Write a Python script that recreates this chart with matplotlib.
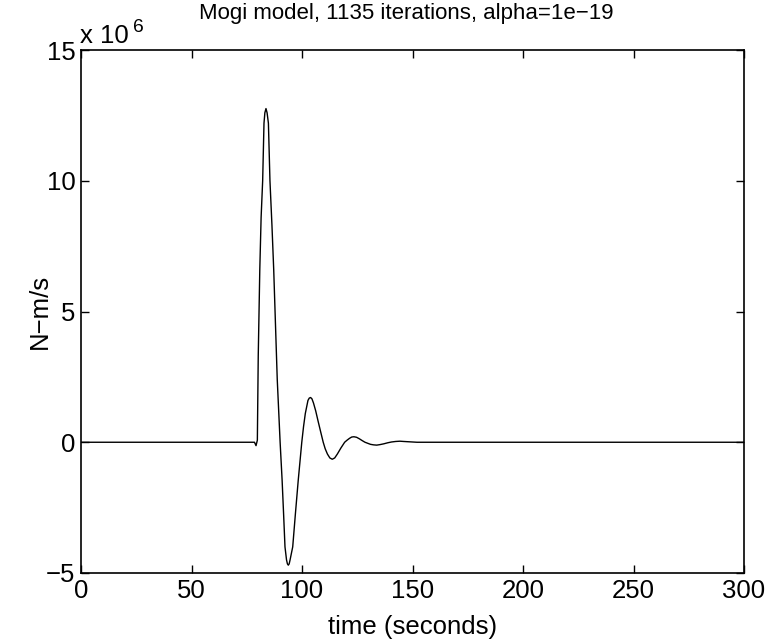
import matplotlib
matplotlib.use("Agg")
import matplotlib.pyplot as plt
from matplotlib.ticker import FuncFormatter

plt.rcParams['font.family'] = ['Liberation Sans', 'DejaVu Sans']

# time (seconds)
t = [0, 78.5, 79.2, 79.8, 80.2, 80.9, 81.5, 82.2, 82.8, 83.2, 83.7, 84.2, 84.8,
     85.5, 86.4, 87.2, 88.0, 88.8, 90.1, 91.0, 91.7, 92.3, 93.0, 93.4, 93.8,
     94.2, 94.6, 95.8, 97.0, 98.3, 99.9, 100.7, 101.5, 102.7, 103.3, 103.9,
     104.5, 105.2, 106.2, 107.3, 108.5, 109.6, 110.5, 111.5, 112.6, 113.7,
     114.8, 116.0, 117.6, 119.3, 120.4, 121.5, 122.5, 123.5, 124.7, 126.0,
     127.3, 128.5, 131.0, 132.4, 133.8, 135.3, 137.0, 138.8, 140.5, 142.4,
     144.3, 146.0, 148.0, 150.0, 152.0, 300]
# moment rate, units of 1e6 N-m/s
rate_1e6 = [0, 0, -0.13, 0.08, 3.3, 6.6, 8.6, 10.0, 12.2, 12.6, 12.76, 12.6, 12.2,
            10.0, 8.3, 6.6, 4.5, 2.4, 0.0, -1.45, -2.8, -4.0, -4.5, -4.65, -4.70,
            -4.65, -4.5, -4.0, -2.75, -1.45, 0.0, 0.6, 1.1, 1.6, 1.69, 1.71,
            1.66, 1.5, 1.2, 0.8, 0.38, 0.0, -0.25, -0.45, -0.6, -0.65,
            -0.6, -0.45, -0.22, 0.0, 0.08, 0.15, 0.2, 0.21, 0.19, 0.13,
            0.06, 0.0, -0.08, -0.1, -0.11, -0.09, -0.06, -0.02, 0.01, 0.03,
            0.04, 0.03, 0.02, 0.01, 0.0, 0.0]
scale = 1e6
values = [v * scale for v in rate_1e6]

xticks = [0, 50, 100, 150, 200, 250, 300]
yticks_1e6 = [-5, 0, 5, 10, 15]

fs = 18.5
fig = plt.figure(figsize=(7.72, 6.42), dpi=100)
ax = fig.add_axes([81/772, 1 - 573/642, (744-81)/772, (573-50)/642])
ax.plot(t, values, color='black', linewidth=1.0)
ax.set_xlim(0, 300)
ax.set_ylim(-5 * scale, 15 * scale)
ax.set_xticks(xticks)
ax.set_yticks([v * scale for v in yticks_1e6])
ax.yaxis.set_major_formatter(FuncFormatter(
    lambda v, p: '\u2212%d' % abs(round(v / scale)) if v < 0 else '%d' % round(v / scale)))
ax.tick_params(direction='in', length=6, width=1, top=True, right=True,
               labelsize=fs, pad=4)
for s in ax.spines.values():
    s.set_linewidth(1.2)
ax.set_xlabel('time (seconds)', fontsize=fs)
ax.set_ylabel('N\u2212m/s', fontsize=fs)
ax.xaxis.set_label_coords(0.5, (573 - 627) / 523)
ax.yaxis.set_label_coords((40 - 81) / 663, 0.5)
ax.xaxis.label.set_va('center')
ax.yaxis.label.set_va('center')
fig.text(406/772, 1 - 13/642, 'Mogi model, 1135 iterations, alpha=1e\u221219',
         ha='center', va='center', fontsize=16)
fig.text(80/772, 1 - 36/642, 'x 10', ha='left', va='center', fontsize=fs)
fig.text(133/772, 1 - 27/642, '6', ha='left', va='center', fontsize=fs * 0.75)
fig.savefig('out.png', dpi=100)
